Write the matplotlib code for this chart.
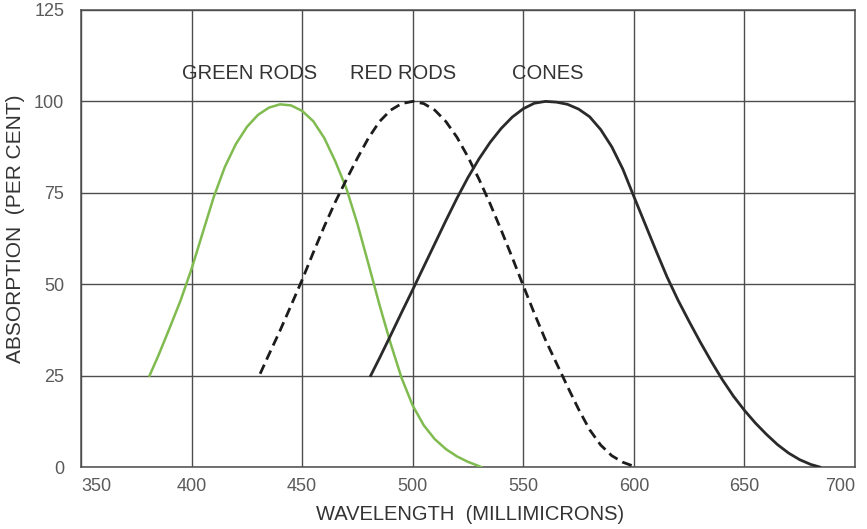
import matplotlib
matplotlib.use("Agg")
import matplotlib.pyplot as plt

# Absorption curves (per cent) against wavelength (millimicrons)
green_wl = [381, 385, 390, 395, 400, 405, 410, 415, 420, 425, 430, 435, 440,
            445, 450, 455, 460, 465, 470, 475, 480, 485, 490, 495, 500, 505,
            510, 515, 520, 525, 531]
green_abs = [25, 30.5, 37.9, 45.5, 54.2, 64, 73.8, 82, 88.3, 93, 96.3, 98.3, 99.2,
             98.9, 97.4, 94.6, 90, 83.6, 76.2, 66.5, 55.5, 44.3, 33.8, 24.3, 16.8, 11.4,
             7.6, 4.9, 2.9, 1.4, 0]

red_wl = [431, 435, 440, 445, 450, 455, 460, 465, 470, 475, 480, 485, 490,
          495, 500, 505, 510, 515, 520, 525, 530, 535, 540, 545, 550, 555,
          560, 565, 570, 575, 580, 585, 590, 595, 600]
red_abs = [25.5, 30.8, 37.3, 44.2, 51.2, 58.6, 65.8, 72.5, 78.6, 84.5, 90, 94.5, 97.6,
           99.4, 100, 99.4, 97.6, 94.5, 90.2, 84.8, 78.7, 72.0, 64.8, 57.3, 49.6, 42.0,
           34.8, 28.4, 22.0, 15.8, 10.2, 6.0, 3.1, 1.3, 0.2]

cone_wl = [481, 485, 490, 495, 500, 505, 510, 515, 520, 525, 530, 535, 540,
           545, 550, 555, 560, 565, 570, 575, 580, 585, 590, 595, 600, 605,
           610, 615, 620, 625, 630, 635, 640, 645, 650, 655, 660, 665, 670,
           675, 680, 684]
cone_abs = [25, 29.8, 36, 42.3, 48.5, 54.8, 61.1, 67.4, 73.5, 79.2, 84.3, 88.8, 92.6,
            95.7, 98.0, 99.5, 100, 99.8, 99.2, 97.9, 95.8, 92.3, 87.6, 81.5, 74.0, 66.6,
            59.2, 52.0, 45.6, 39.8, 34.2, 28.9, 23.9, 19.4, 15.5, 12.0, 8.9, 6.1, 3.8,
            2.0, 0.7, 0]

curve_labels = ["GREEN RODS", "RED RODS", "CONES"]
label_x = [426, 495.5, 561]
label_y = 107.5

x_ticks = [350, 400, 450, 500, 550, 600, 650, 700]
y_ticks = [0, 25, 50, 75, 100, 125]

plt.rcParams["font.family"] = ["Liberation Sans", "DejaVu Sans"]

W, H = 867, 529
fig = plt.figure(figsize=(W / 100, H / 100), dpi=100)
ax = fig.add_axes([81 / W, 62 / H, 774 / W, 457 / H])

grid_color = "#4d4d4d"
ax.set_xlim(350, 700)
ax.set_ylim(0, 125)
ax.set_xticks(x_ticks)
ax.set_yticks(y_ticks)
ax.grid(True, color=grid_color, linewidth=1.0)
ax.set_axisbelow(True)
for sp in ax.spines.values():
    sp.set_color(grid_color)
    sp.set_linewidth(1.1)

ax.tick_params(length=0, labelsize=13, labelcolor="#5a5a5a")
ax.tick_params(axis="x", pad=8)
ax.tick_params(axis="y", pad=12)
xt = ax.get_xticklabels()
xt[0].set_horizontalalignment("left")
xt[-1].set_horizontalalignment("right")

ax.plot(green_wl, green_abs, color="#80bb50", linewidth=1.8,
        solid_joinstyle="round", zorder=3)
ax.plot(red_wl, red_abs, color="#1c1c1c", linewidth=2.0,
        linestyle=(0, (3.6, 2.0)), zorder=3)
ax.plot(cone_wl, cone_abs, color="#2a2a2a", linewidth=2.0,
        solid_joinstyle="round", zorder=3)

for text, x in zip(curve_labels, label_x):
    ax.text(x, label_y, text, ha="center", va="center", fontsize=14.5,
            color="#333333")

fig.text(470 / W, 1 - 514 / H, "WAVELENGTH  (MILLIMICRONS)", ha="center",
         va="center", fontsize=14.5, color="#333333")
fig.text(16 / W, 1 - 229 / H, "ABSORPTION  (PER CENT)", ha="center",
         va="center", rotation=90, fontsize=15, color="#333333")

fig.savefig("out.png", dpi=100, facecolor="white")
